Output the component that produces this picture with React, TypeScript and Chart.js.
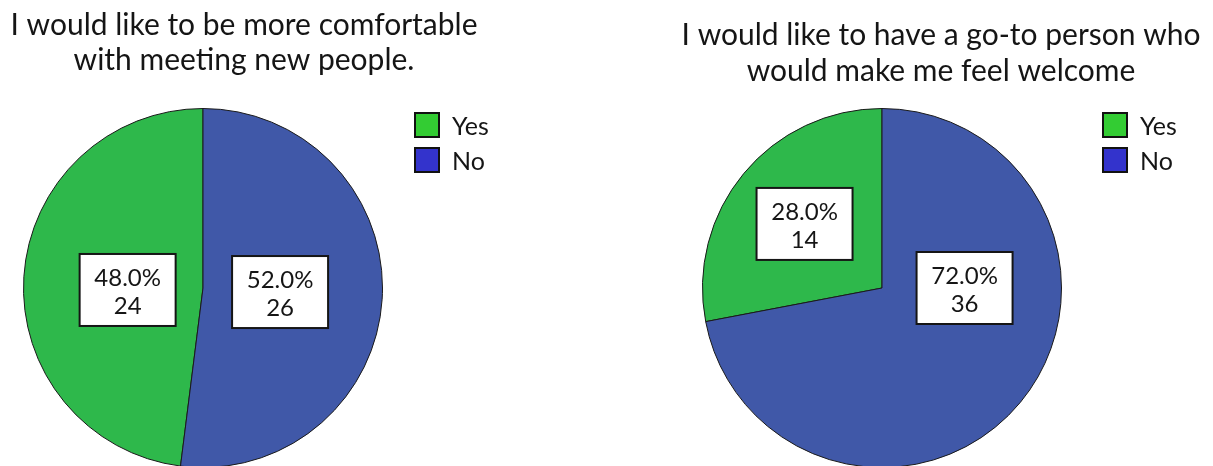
import React, { useEffect, useRef } from "react";
import { Chart, registerables } from "chart.js";

Chart.register(...registerables);

// ---- data ----
const CATEGORIES = ["Yes", "No"];
const LEFT_TITLE = ["I would like to be more comfortable", "with meeting new people."];
const LEFT_COUNTS = [24, 26];
const RIGHT_TITLE = ["I would like to have a go-to person who", "would make me feel welcome"];
const RIGHT_COUNTS = [14, 36];

// ---- style ----
const FONT = "Lato, 'Noto Sans', sans-serif";
const SLICE_COLORS = ["#2EB84B", "#4058A8"];
const LEGEND_COLORS = ["#33CC33", "#3333CC"];
const CANVAS_H = 480;

const overlayPlugin = {
  id: "overlay",
  afterDatasetsDraw(chart: any, _args: any, opts: any) {
    const ctx = chart.ctx;
    const meta = chart.getDatasetMeta(0);
    const data: number[] = chart.data.datasets[0].data;
    const total = data.reduce((a, b) => a + b, 0);
    meta.data.forEach((arc: any, i: number) => {
      const p = opts.placements[i];
      const { x, y, startAngle, endAngle, outerRadius } = arc.getProps(
        ["x", "y", "startAngle", "endAngle", "outerRadius"],
        true
      );
      const ang = p.angle != null ? (p.angle * Math.PI) / 180 : (startAngle + endAngle) / 2;
      const cx = x + Math.cos(ang) * outerRadius * p.frac;
      const cy = y + Math.sin(ang) * outerRadius * p.frac;
      const w = 96;
      const h = 72;
      ctx.save();
      ctx.fillStyle = "#ffffff";
      ctx.fillRect(cx - w / 2, cy - h / 2, w, h);
      ctx.lineWidth = 2;
      ctx.strokeStyle = "#151515";
      ctx.strokeRect(cx - w / 2, cy - h / 2, w, h);
      ctx.fillStyle = "#151515";
      ctx.font = `24px ${FONT}`;
      ctx.textAlign = "center";
      ctx.textBaseline = "alphabetic";
      const pct = ((data[i] / total) * 100).toFixed(1) + "%";
      ctx.fillText(pct, cx, cy - 4);
      ctx.fillText(String(data[i]), cx, cy + 24);
      ctx.restore();
    });
  },
  afterDraw(chart: any, _args: any, opts: any) {
    const ctx = chart.ctx;
    ctx.save();
    // title
    ctx.fillStyle = "#151515";
    ctx.font = `30px ${FONT}`;
    ctx.textAlign = "center";
    ctx.textBaseline = "alphabetic";
    opts.title.forEach((line: string, i: number) => {
      ctx.fillText(line, opts.titleX, opts.titleY[i]);
    });
    // legend
    const labels: string[] = chart.data.labels;
    ctx.font = `25px ${FONT}`;
    ctx.textAlign = "left";
    labels.forEach((lab, i) => {
      const top = opts.legendY + i * 35;
      ctx.fillStyle = LEGEND_COLORS[i];
      ctx.fillRect(opts.legendX, top, 24, 24);
      ctx.lineWidth = 2;
      ctx.strokeStyle = "#111";
      ctx.strokeRect(opts.legendX, top, 24, 24);
      ctx.fillStyle = "#151515";
      ctx.fillText(lab, opts.legendX + 37, top + 22);
    });
    ctx.restore();
  },
};

type PieProps = {
  counts: number[];
  title: string[];
  width: number;
  left: number;
  padding: { left: number; right: number; top: number; bottom: number };
  titleX: number;
  titleY: number[];
  legendX: number;
  legendY: number;
  placements: { frac: number; angle: number | null }[];
};

function Pie(props: PieProps) {
  const ref = useRef<HTMLCanvasElement | null>(null);
  useEffect(() => {
    if (!ref.current) return;
    const total = props.counts.reduce((a, b) => a + b, 0);
    // first slice (Yes) ends at 12 o'clock, so it starts after the "No" share
    const rotation = (360 * props.counts[1]) / total;
    const chart = new Chart(ref.current, {
      type: "pie",
      data: {
        labels: CATEGORIES,
        datasets: [
          {
            data: props.counts,
            backgroundColor: SLICE_COLORS,
            borderColor: "#1a1a1a",
            borderWidth: 1,
          },
        ],
      },
      options: {
        animation: false,
        responsive: false,
        devicePixelRatio: 1,
        rotation,
        layout: { padding: props.padding },
        plugins: {
          legend: { display: false },
          tooltip: { enabled: false },
          title: { display: false },
          overlay: {
            title: props.title,
            titleX: props.titleX,
            titleY: props.titleY,
            legendX: props.legendX,
            legendY: props.legendY,
            placements: props.placements,
          },
        } as any,
      },
      plugins: [overlayPlugin],
    });
    return () => chart.destroy();
  }, []);
  return (
    <canvas
      ref={ref}
      width={props.width}
      height={CANVAS_H}
      style={{ position: "absolute", left: props.left, top: 0, width: props.width, height: CANVAS_H }}
    />
  );
}

export default function App() {
  return (
    <div
      style={{
        position: "fixed",
        left: 0,
        top: 0,
        width: 1213,
        height: 466,
        overflow: "hidden",
        background: "#ffffff",
      }}
    >
      <Pie
        counts={LEFT_COUNTS}
        title={LEFT_TITLE}
        width={606}
        left={0}
        padding={{ left: 23, right: 223, top: 108, bottom: 12 }}
        titleX={244}
        titleY={[35, 70]}
        legendX={415}
        legendY={113}
        placements={[
          { frac: 0.42, angle: 178.5 },
          { frac: 0.43, angle: 3 },
        ]}
      />
      <Pie
        counts={RIGHT_COUNTS}
        title={RIGHT_TITLE}
        width={607}
        left={606}
        padding={{ left: 96, right: 151, top: 108, bottom: 12 }}
        titleX={335}
        titleY={[45, 81]}
        legendX={497}
        legendY={113}
        placements={[
          { frac: 0.56, angle: null },
          { frac: 0.46, angle: 0 },
        ]}
      />
    </div>
  );
}
